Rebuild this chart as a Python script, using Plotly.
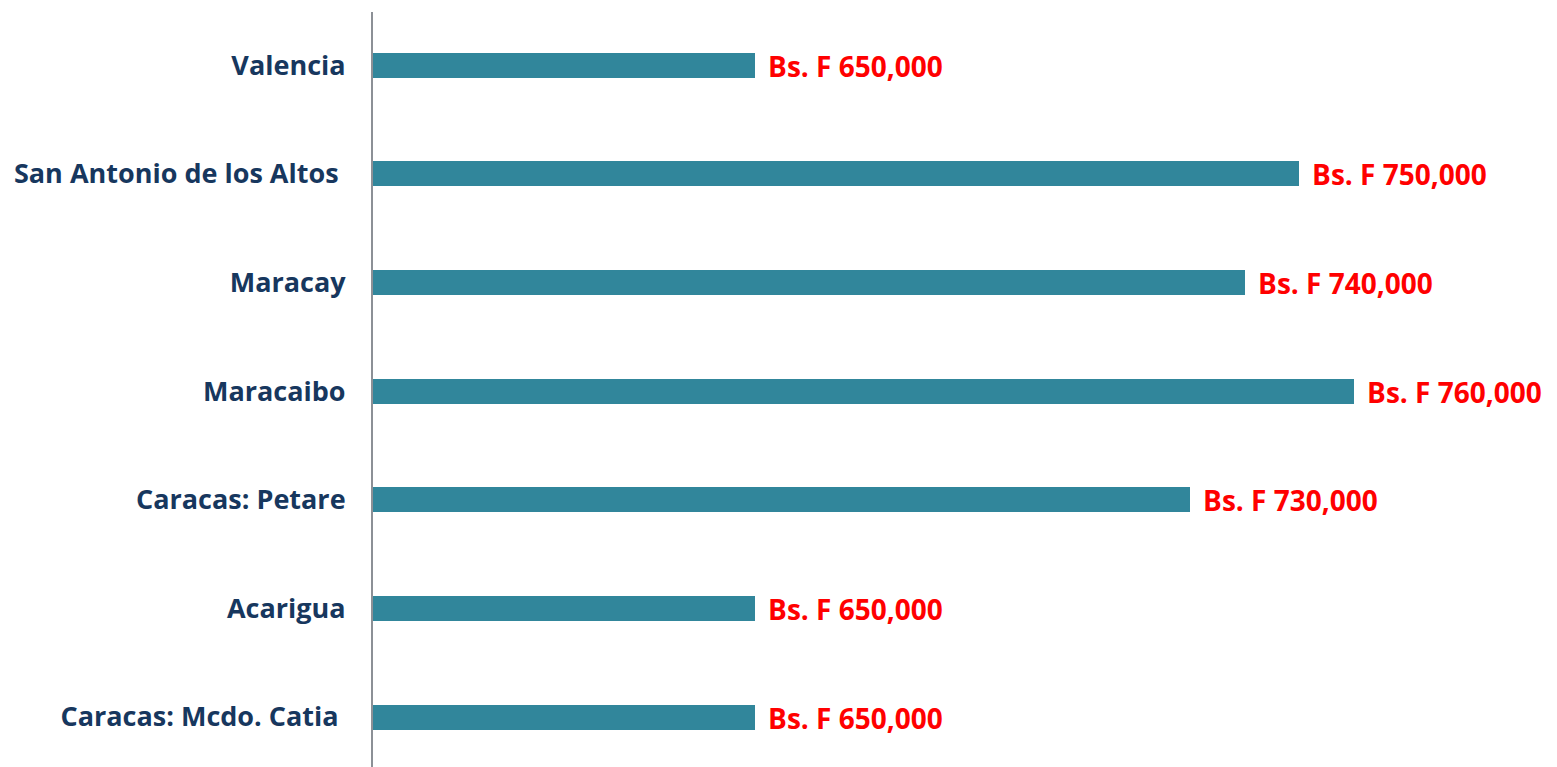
"""Precio por ciudad - barras horizontales."""

import plotly.graph_objects as go

NAVY = "#17375E"
TEAL = "#31869B"
RED = "#FF0000"
AXIS_GRAY = "#8C9096"
FONT = "Open Sans, Arial, sans-serif"

# bottom to top, as plotly draws categories
CITIES = [
    "Caracas: Mcdo. Catia\u00a0",
    "Acarigua",
    "Caracas: Petare",
    "Maracaibo",
    "Maracay",
    "San Antonio de los Altos\u00a0",
    "Valencia",
]
PRICES = [650000, 650000, 730000, 760000, 740000, 750000, 650000]
LABELS = [f"Bs. F {v:,}" for v in PRICES]

fig = go.Figure(
    go.Bar(
        x=PRICES,
        y=CITIES,
        orientation="h",
        marker=dict(color=TEAL, line=dict(width=0)),
        width=0.23,
        text=["\u00a0\u200a" + t for t in LABELS],
        textposition="outside",
        constraintext="none",
        cliponaxis=False,
        textfont=dict(family=FONT, size=28, color=RED, weight="bold"),
        hoverinfo="skip",
    )
)

# page body adds 8px, so the figure is sized to fit inside the window
fig.update_layout(
    width=1549,
    height=759,
    margin=dict(l=365, r=0, t=4, b=0),
    paper_bgcolor="#FFFFFF",
    plot_bgcolor="#FFFFFF",
    showlegend=False,
    bargap=0,
    font=dict(family=FONT, color=NAVY),
)
fig.update_xaxes(
    range=[580000, 797250],
    visible=False,
    showgrid=False,
    zeroline=False,
)
fig.update_yaxes(
    range=[-0.46, 6.49],
    showgrid=False,
    zeroline=False,
    showline=True,
    linecolor=AXIS_GRAY,
    linewidth=2,
    ticks="",
    ticklabelstandoff=20,
    automargin=False,
    tickfont=dict(family=FONT, size=27, color=NAVY, weight="bold"),
)

fig.write_html("out.html")
